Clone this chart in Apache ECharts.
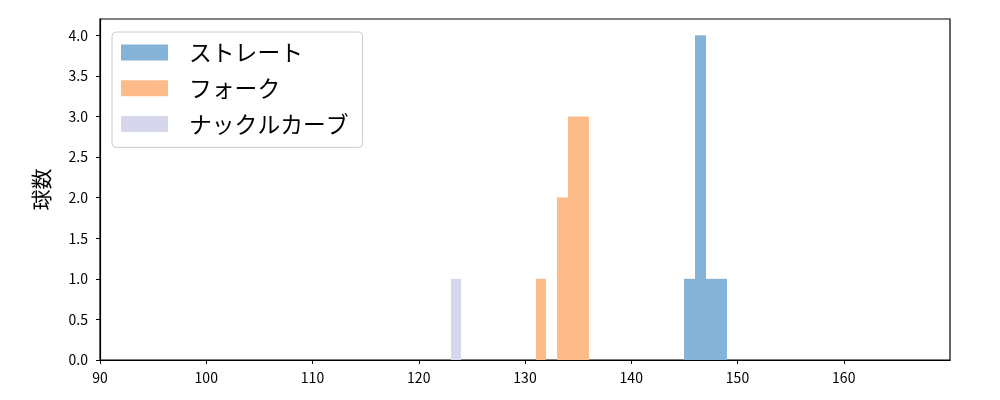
<!DOCTYPE html>
<html lang="ja">
<head>
    <meta charset="UTF-8">
    <script src="https://cdn.jsdelivr.net/npm/echarts@6/dist/echarts.min.js"></script>
    <style type="text/css">
        html, body { margin: 0; padding: 0; background: #fff; }
        #main { width: 1000px; height: 400px; }
    </style>
</head>
<body>
<div id="main"></div>
<script type="text/javascript">
    // ヒストグラム: ビンの左端 / 右端 / 球数
    var straightStart = [145, 146, 147, 148];
    var straightEnd   = [146, 147, 148, 149];
    var straightCount = [1, 4, 1, 1];

    var forkStart = [131, 133, 134, 135];
    var forkEnd   = [132, 134, 135, 136];
    var forkCount = [1, 2, 3, 3];

    var knuckleStart = [123];
    var knuckleEnd   = [124];
    var knuckleCount = [1];

    var names = ['ストレート', 'フォーク', 'ナックルカーブ'];
    var colors = ['#85b3d7', '#febb8a', '#d6d7ec'];

    var xTicks = [90, 100, 110, 120, 130, 140, 150, 160];
    var yTicks = [0, 0.5, 1, 1.5, 2, 2.5, 3, 3.5, 4];

    function rows(s, e, c) {
        var out = [];
        for (var i = 0; i < s.length; i++) out.push([s[i], e[i], c[i]]);
        return out;
    }

    function renderBin(params, api) {
        var p0 = api.coord([api.value(0), api.value(2)]);
        var p1 = api.coord([api.value(1), 0]);
        var x0 = Math.round(p0[0]), x1 = Math.round(p1[0]);
        return {
            type: 'rect',
            shape: { x: x0, y: p0[1], width: x1 - x0, height: p1[1] - p0[1] },
            style: { fill: api.visual('color') }
        };
    }

    var font = '"Noto Sans CJK JP", sans-serif';
    var myChart = echarts.init(document.getElementById('main'));

    var datasets = [
        rows(straightStart, straightEnd, straightCount),
        rows(forkStart, forkEnd, forkCount),
        rows(knuckleStart, knuckleEnd, knuckleCount)
    ];

    var series = [];
    for (var k = 0; k < names.length; k++) {
        series.push({
            name: names[k],
            type: 'custom',
            renderItem: renderBin,
            itemStyle: { color: colors[k] },
            encode: { x: [0, 1], y: 2 },
            data: datasets[k]
        });
    }

    var option = {
        animation: false,
        backgroundColor: '#fff',
        textStyle: { fontFamily: font },
        grid: {
            left: 100, right: 50, top: 19, bottom: 40,
            show: true, borderColor: '#000', borderWidth: 1.2
        },
        legend: {
            left: 112, top: 32,
            orient: 'vertical',
            data: names,
            icon: 'rect',
            itemWidth: 47, itemHeight: 16, itemGap: 13,
            padding: [9, 14, 12, 9],
            borderColor: '#cccccc', borderWidth: 1, borderRadius: 4,
            backgroundColor: 'rgba(255,255,255,0.8)',
            textStyle: {
                fontSize: 22.8, lineHeight: 22, color: '#000', fontFamily: font,
                padding: [0, 0, 0, 16]
            }
        },
        xAxis: {
            type: 'value',
            min: 90, max: 170,
            splitLine: { show: false },
            axisLine: { show: true, onZero: false, lineStyle: { color: '#000', width: 1.2 } },
            axisTick: { show: true, length: 4, customValues: xTicks, lineStyle: { color: '#000' } },
            axisLabel: { customValues: xTicks, color: '#000', fontSize: 14, margin: 11 }
        },
        yAxis: {
            type: 'value',
            min: 0, max: 4.2,
            name: '球数',
            nameLocation: 'middle',
            nameGap: 48,
            nameTextStyle: { fontSize: 21, color: '#000', fontFamily: font },
            splitLine: { show: false },
            axisLine: { show: true, lineStyle: { color: '#000', width: 1.2 } },
            axisTick: { show: true, length: 4, customValues: yTicks, lineStyle: { color: '#000' } },
            axisLabel: {
                customValues: yTicks, color: '#000', fontSize: 14, margin: 12,
                formatter: function (v) { return v.toFixed(1); }
            }
        },
        series: series
    };

    myChart.setOption(option);
</script>
</body>
</html>
